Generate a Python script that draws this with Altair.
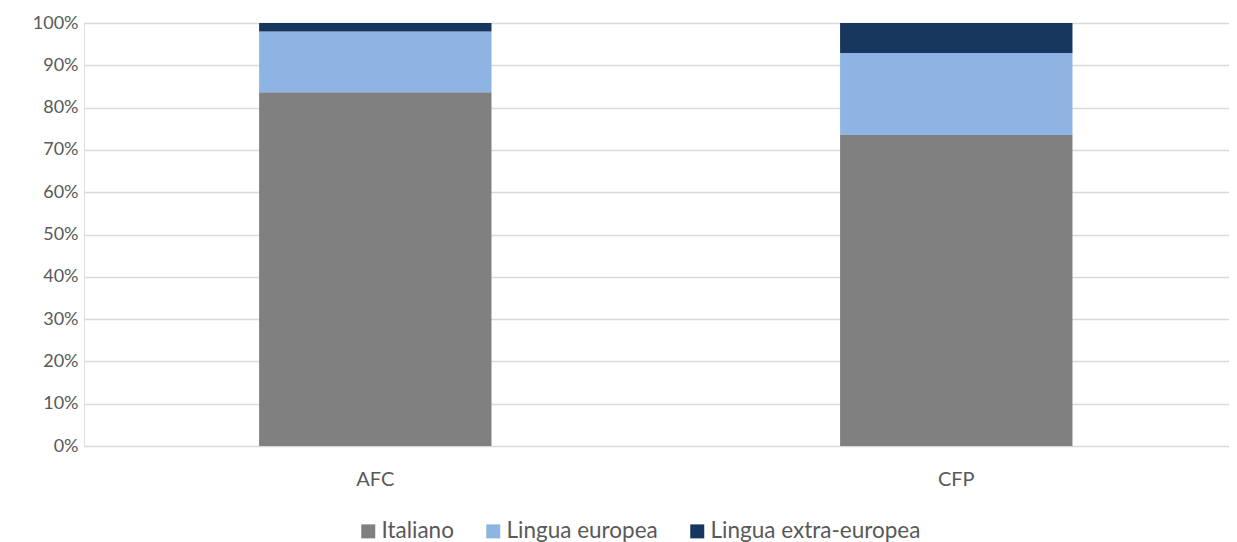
import altair as alt
import pandas as pd

categories = ["AFC", "CFP"]
series = ["Italiano", "Lingua europea", "Lingua extra-europea"]
italiano = [83.6, 73.5]
europea = [14.4, 19.4]
extra = [2.0, 7.1]
colors = ["#808080", "#8EB4E3", "#17375E"]
y_ticks = [i / 10 for i in range(11)]

rows = []
for i, c in enumerate(categories):
    for k, (s, vals) in enumerate(zip(series, [italiano, europea, extra])):
        rows.append({"cat": c, "serie": s, "val": vals[i] / 100, "ord": k})
df = pd.DataFrame(rows)

FONT = "Lato"
TXT = "#595959"

chart = alt.Chart(df).mark_bar().encode(
    x=alt.X("cat:N", sort=categories, title=None,
            scale=alt.Scale(paddingInner=0.6, paddingOuter=0.2854, align=0.528),
            axis=alt.Axis(labelAngle=0, domain=False, ticks=False, labelPadding=23,
                          labelFont=FONT, labelFontSize=20, labelColor=TXT)),
    y=alt.Y("val:Q", stack="zero", title=None,
            scale=alt.Scale(domain=[0, 1], nice=False),
            axis=alt.Axis(values=y_ticks, format=".0%", domain=False, ticks=False,
                          labelPadding=6, gridColor="#D9D9D9", gridWidth=1.3,
                          labelFont=FONT, labelFontSize=18, labelColor=TXT)),
    color=alt.Color("serie:N", sort=series, title=None,
                    scale=alt.Scale(domain=series, range=colors),
                    legend=alt.Legend(orient="none", direction="horizontal",
                                      legendX=273, legendY=497, padding=0,
                                      symbolType="square", symbolSize=196,
                                      symbolStrokeWidth=0, symbolOpacity=1,
                                      labelFont=FONT, labelFontSize=22.5, labelColor=TXT,
                                      labelLimit=0, labelOffset=2, columnPadding=28)),
    order=alt.Order("ord:Q", sort="ascending"),
).properties(
    width=1145, height=423,
    autosize=alt.AutoSizeParams(type="none"),
    padding={"left": 76, "top": 15, "right": 0, "bottom": 96},
).configure_view(stroke=None).configure(background="white")

chart.save("out.html", embed_options={"renderer": "svg", "actions": False})
